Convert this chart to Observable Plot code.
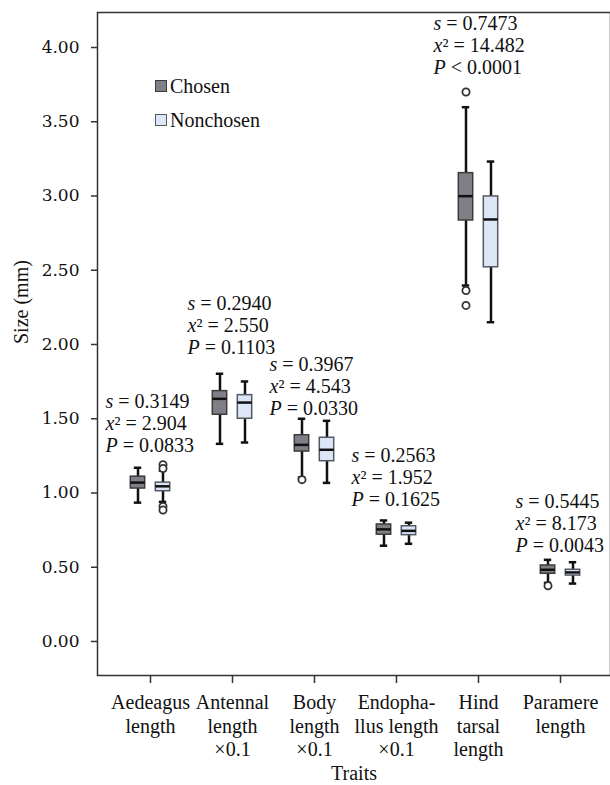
<!DOCTYPE html>
<html><head><meta charset="utf-8">
<script src="https://cdn.jsdelivr.net/npm/d3@7"></script>
<script src="https://cdn.jsdelivr.net/npm/@observablehq/plot@0.6"></script>
<style>
body{margin:0;background:#fff;}
#wrap{position:relative;width:610px;height:785px;overflow:hidden;}
#wrap svg text{font-family:"Liberation Serif","Times New Roman",Times,serif;}
#wrap svg g[aria-label="y-axis tick label"] text{font-family:"DejaVu Serif",serif;}
#wrap svg tspan.it{font-style:italic;}
.legend{position:absolute;left:155px;top:69px;font-family:"Liberation Serif","Times New Roman",Times,serif;font-size:20px;color:#111;}
.legend .row{display:flex;align-items:center;height:34px;}
.legend .sw{display:inline-block;width:12px;height:12px;margin-right:3px;box-sizing:border-box;}
</style></head><body><div id="wrap"></div>
<script>
// categories and tick labels
const traits = ["Aedeagus length", "Antennal length ×0.1", "Body length ×0.1", "Endophallus length ×0.1", "Hind tarsal length", "Paramere length"];
const tickLabels = ["Aedeagus\nlength", "Antennal\nlength\n×0.1", "Body\nlength\n×0.1", "Endopha-\nllus length\n×0.1", "Hind\ntarsal\nlength", "Paramere\nlength"];
const yTicks = [0, 0.5, 1, 1.5, 2, 2.5, 3, 3.5, 4];

// Chosen: box summaries
const chosenLo  = [0.935, 1.331, 1.105, 0.645, 2.397, 0.395];
const chosenQ1  = [1.030, 1.527, 1.279, 0.719, 2.835, 0.456];
const chosenMed = [1.070, 1.634, 1.324, 0.755, 2.999, 0.483];
const chosenQ3  = [1.110, 1.686, 1.389, 0.788, 3.154, 0.512];
const chosenHi  = [1.170, 1.803, 1.500, 0.815, 3.598, 0.550];
const chosenOutTrait = ["Body length ×0.1", "Hind tarsal length", "Hind tarsal length", "Hind tarsal length", "Paramere length"];
const chosenOutVal   = [1.090, 3.700, 2.364, 2.263, 0.375];

// Nonchosen: box summaries
const nonLo  = [0.940, 1.340, 1.068, 0.658, 2.150, 0.390];
const nonQ1  = [1.012, 1.500, 1.214, 0.716, 2.520, 0.444];
const nonMed = [1.045, 1.609, 1.291, 0.745, 2.842, 0.465];
const nonQ3  = [1.070, 1.659, 1.372, 0.776, 2.997, 0.483];
const nonHi  = [1.150, 1.751, 1.486, 0.800, 3.232, 0.534];
const nonOutTrait = ["Aedeagus length", "Aedeagus length", "Aedeagus length", "Aedeagus length"];
const nonOutVal   = [1.190, 1.165, 0.909, 0.885];

// statistics annotations
const sVals   = ["0.3149", "0.2940", "0.3967", "0.2563", "0.7473", "0.5445"];
const chiVals = ["2.904", "2.550", "4.543", "1.952", "14.482", "8.173"];
const pVals   = ["= 0.0833", "= 0.1103", "= 0.0330", "= 0.1625", "< 0.0001", "= 0.0043"];
const annotY  = [1.470, 2.130, 1.718, 1.111, 4.020, 0.801];

const serif = "Liberation Serif";
const mk = (lo, q1, med, q3, hi) => traits.map((t, i) => ({trait: t, lo: lo[i], q1: q1[i], med: med[i], q3: q3[i], hi: hi[i]}));
const chosen = mk(chosenLo, chosenQ1, chosenMed, chosenQ3, chosenHi);
const nonchosen = mk(nonLo, nonQ1, nonMed, nonQ3, nonHi);
const chosenOut = chosenOutTrait.map((t, i) => ({trait: t, v: chosenOutVal[i]}));
const nonOut = nonOutTrait.map((t, i) => ({trait: t, v: nonOutVal[i]}));
const annot = traits.map((t, i) => ({trait: t, y: annotY[i], label: `s = ${sVals[i]}\nx² = ${chiVals[i]}\nP ${pVals[i]}`}));

const boxInset = 33.8, capInset = 37.3;
function boxMarks(data, out, fill, stroke, dx) {
  return [
    Plot.ruleX(data, {x: "trait", y1: "lo", y2: "hi", dx, stroke: "#111", strokeWidth: 2.5}),
    Plot.tickY(data, {x: "trait", y: "hi", dx, insetLeft: capInset, insetRight: capInset, stroke: "#111", strokeWidth: 2.5}),
    Plot.tickY(data, {x: "trait", y: "lo", dx, insetLeft: capInset, insetRight: capInset, stroke: "#111", strokeWidth: 2.5}),
    Plot.barY(data, {x: "trait", y1: "q1", y2: "q3", dx, insetLeft: boxInset, insetRight: boxInset, fill, stroke, strokeWidth: 1.5}),
    Plot.tickY(data, {x: "trait", y: "med", dx, insetLeft: boxInset, insetRight: boxInset, stroke: "#111", strokeWidth: 2.5}),
    Plot.dot(out, {x: "trait", y: "v", dx, r: 3.6, fill: "white", stroke: "#333", strokeWidth: 1.8})
  ];
}

const plot = Plot.plot({
  width: 610, height: 785,
  marginTop: 12, marginBottom: 110, marginLeft: 97, marginRight: 0,
  style: {background: "white", color: "#111", fontFamily: serif},
  x: {domain: traits, paddingInner: 0, paddingOuter: 0.103, align: 0.585},
  y: {domain: [-0.229, 4.2357]},
  marks: [
    Plot.axisY({ticks: yTicks, tickFormat: ".2f", tickSize: 6, tickPadding: 12, fontFamily: "DejaVu Serif", fontSize: 17, stroke: "#333", strokeWidth: 1.5, label: null}),
    Plot.axisX({tickSize: 8, tickPadding: 9, tickFormat: d => tickLabels[traits.indexOf(d)], fontFamily: serif, fontSize: 20, lineHeight: 1.17, stroke: "#333", strokeWidth: 1.5, label: null}),
    Plot.text(["Size (mm)"], {frameAnchor: "left", text: d => d, rotate: -90, dx: -76, fontFamily: serif, fontSize: 20, fill: "#111"}),
    Plot.text(["Traits"], {frameAnchor: "bottom", text: d => d, dy: 104, fontFamily: serif, fontSize: 20, fill: "#111"}),
    Plot.frame({stroke: "#333", strokeWidth: 1.5}),
    ...boxMarks(chosen, chosenOut, "#807f87", "#3c3c3c", -12.5),
    ...boxMarks(nonchosen, nonOut, "#dde6f7", "#555a62", 12.5),
    Plot.text(annot, {x: "trait", y: "y", text: "label", textAnchor: "start", dx: -45, lineAnchor: "middle", lineHeight: 1.1, fontFamily: serif, fontSize: 20, fill: "#111"})
  ]
});

// italicise the statistic symbols (s, x, P)
d3.select(plot).selectAll("tspan")
  .filter(function() { return /^(s = |x² = |P [=<] )/.test(this.textContent); })
  .each(function() {
    const s = this.textContent;
    const el = d3.select(this);
    el.text(null);
    el.append("tspan").attr("class", "it").attr("font-style", "italic").text(s[0]);
    el.append("tspan").text(s.slice(1));
  });

const wrap = document.getElementById("wrap");
wrap.appendChild(plot);
const legend = document.createElement("div");
legend.className = "legend";
const legendItems = [["Chosen", "#807f87", "#3c3c3c"], ["Nonchosen", "#dde6f7", "#555a62"]];
legend.innerHTML = legendItems.map(([name, fill, stroke]) =>
  `<div class="row"><span class="sw" style="background:${fill};border:1.5px solid ${stroke}"></span>${name}</div>`).join("");
wrap.appendChild(legend);
</script>
</body></html>
